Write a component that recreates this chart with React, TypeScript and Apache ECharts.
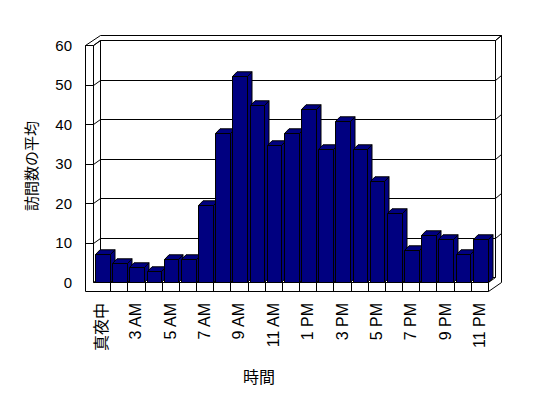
import React, { useEffect, useRef } from "react";
import * as echarts from "echarts";

const categories: string[] = [
  "真夜中", "2 AM", "3 AM", "4 AM", "5 AM", "6 AM", "7 AM", "8 AM", "9 AM", "10 AM", "11 AM", "正午",
  "1 PM", "2 PM", "3 PM", "4 PM", "5 PM", "6 PM", "7 PM", "8 PM", "9 PM", "10 PM", "11 PM",
];
const visits: number[] = [
  7, 4.9, 3.8, 2.8, 5.9, 5.9, 19.5, 37.7, 52.2, 44.8, 34.7, 37.7,
  43.8, 33.6, 40.8, 33.6, 25.6, 17.4, 8, 12, 11, 7, 11,
];
const yTicks: number[] = [0, 10, 20, 30, 40, 50, 60];
const yTitle = "訪問数の平均";
const xTitle = "時間";

const LATIN = "'Liberation Sans', Arial, 'Noto Sans CJK JP', sans-serif";
const CJK = "'Noto Sans CJK JP', 'Liberation Sans', sans-serif";

const c = (v: number) => Math.round(v) + 0.5;

function ln(x1: number, y1: number, x2: number, y2: number) {
  return {
    type: "line",
    shape: { x1, y1, x2, y2 },
    style: { stroke: "#000", lineWidth: 1, fill: "none" },
    silent: true,
  };
}

function renderFrame(params: any, api: any) {
  const cs = params.coordSys;
  const gx = c(cs.x);
  const gy = c(cs.y);
  const gr = c(cs.x + cs.width);
  const gb = c(cs.y + cs.height);
  const W = 8; // left wall thickness
  const Dx = 7, Dy = -5; // depth to back wall
  const Tx = 6, Ty = -5; // back wall thickness
  const F = 9; // floor thickness
  const lx = gx - W;
  const children: any[] = [];

  // top face of the walls
  children.push({
    type: "polygon",
    shape: {
      points: [
        [lx, gy],
        [gx + Dx, gy + Dy + Ty],
        [gr + Dx + Tx, gy + Dy + Ty],
        [gr + Dx, gy + Dy],
        [gx + Dx, gy + Dy],
        [gx, gy],
      ],
    },
    style: { fill: "#fff", stroke: "#000", lineWidth: 1 },
    silent: true,
  });

  // verticals
  children.push(ln(lx, gy, lx, gb + F));
  children.push(ln(gx, gy, gx, gb));
  children.push(ln(gx + Dx, gy + Dy, gx + Dx, gb + Dy));
  children.push(ln(gr + Dx, gy + Dy, gr + Dx, gb + Dy));
  children.push(ln(gr + Dx + Tx, gy + Dy + Ty, gr + Dx + Tx, gb + F + Dy + Ty + 1));

  // gridlines
  yTicks.forEach((v) => {
    const yf = c(api.coord([0, v])[1]);
    if (v !== 0) children.push(ln(lx, yf, gx, yf));
    children.push(ln(gx, yf, gx + Dx, yf + Dy));
    children.push(ln(gx + Dx, yf + Dy, gr + Dx, yf + Dy));
    if (v !== 0) children.push(ln(gr + Dx, yf + Dy, gr + Dx + Tx, yf + Dy + Ty));
  });

  // floor
  children.push(ln(gx, gb, gr, gb));
  children.push(ln(lx, gb + F, gr, gb + F));
  children.push(ln(gr, gb, gr, gb + F));
  children.push(ln(gr, gb, gr + Dx, gb + Dy));
  children.push(ln(gr, gb + F, gr + Dx + Tx, gb + F + Dy + Ty + 1));
  const cw = api.size([1, 0])[0];
  for (let i = 1; i < categories.length; i++) {
    const x = c(cs.x + i * cw);
    children.push(ln(x, gb, x, gb + F));
  }

  return { type: "group", children };
}

function renderBar(params: any, api: any) {
  const i = api.value(0);
  const v = api.value(1);
  const top = api.coord([i, v]);
  const base = api.coord([i, 0]);
  const cw = api.size([1, 0])[0];
  const x0 = c(top[0] - cw / 2 + 2);
  const x1 = c(top[0] + cw / 2 - 0.5);
  const yT = c(top[1]);
  const yB = c(base[1]);
  const dx = 4.5, dy = -4.7;
  const style = { fill: "#000080", stroke: "#000", lineWidth: 1 };
  return {
    type: "group",
    children: [
      {
        type: "polygon",
        shape: { points: [[x1, yT], [x1 + dx, yT + dy], [x1 + dx, yB + dy], [x1, yB]] },
        style,
      },
      {
        type: "polygon",
        shape: { points: [[x0, yT], [x0 + dx, yT + dy], [x1 + dx, yT + dy], [x1, yT]] },
        style,
      },
      {
        type: "rect",
        shape: { x: x0, y: yT, width: x1 - x0, height: yB - yT },
        style,
      },
    ],
  };
}

export default function App() {
  const ref = useRef<HTMLDivElement>(null);
  useEffect(() => {
    if (!ref.current) return;
    const chart = echarts.init(ref.current, null, { renderer: "svg" });
    chart.setOption({
      animation: false,
      backgroundColor: "#fff",
      grid: { left: 93, right: 60, top: 45, bottom: 116 },
      xAxis: {
        type: "category",
        data: categories,
        axisLine: { show: false },
        axisTick: { show: false },
        splitLine: { show: false },
        axisLabel: {
          interval: 1,
          rotate: 90,
          margin: 21,
          fontSize: 16,
          color: "#000",
          fontFamily: LATIN,
        },
      },
      yAxis: {
        type: "value",
        min: 0,
        max: 60,
        interval: 10,
        axisLine: { show: false },
        axisTick: { show: false },
        splitLine: { show: false },
        axisLabel: { margin: 21, fontSize: 15, color: "#000", fontFamily: LATIN },
      },
      graphic: [
        {
          type: "text",
          x: 30,
          y: 166,
          rotation: Math.PI / 2,
          style: {
            text: yTitle,
            fontSize: 15,
            fontFamily: CJK,
            fill: "#000",
            align: "center",
            verticalAlign: "middle",
          },
        },
        {
          type: "text",
          x: 259,
          y: 375.5,
          style: {
            text: xTitle,
            fontSize: 16,
            fontFamily: CJK,
            fill: "#000",
            align: "center",
            verticalAlign: "middle",
          },
        },
      ],
      series: [
        {
          type: "custom",
          name: "frame",
          z: 1,
          clip: false,
          silent: true,
          renderItem: renderFrame,
          data: [[0, 0]],
        },
        {
          type: "custom",
          name: "訪問数の平均",
          z: 2,
          clip: false,
          renderItem: renderBar,
          encode: { x: 0, y: 1 },
          data: visits.map((v, i) => [i, v]),
        },
      ],
    });
    return () => chart.dispose();
  }, []);
  return <div ref={ref} style={{ width: 548, height: 398, position: "absolute", left: 0, top: 0 }} />;
}
